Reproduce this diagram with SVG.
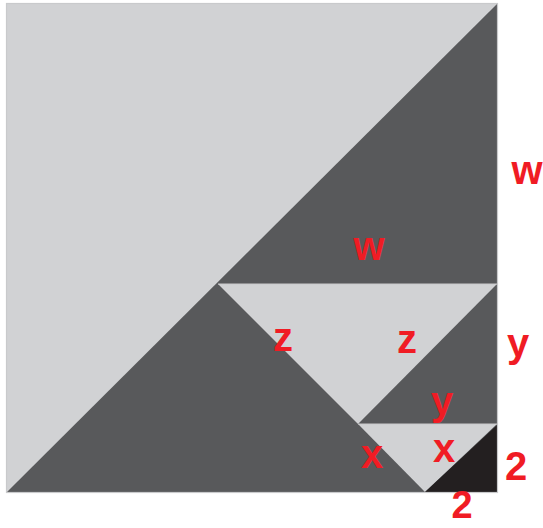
<svg xmlns="http://www.w3.org/2000/svg" width="543" height="528" viewBox="0 0 543 528">
<style>
.dark{fill:#58595b}
.light{fill:#d1d2d4}
.black{fill:#231f20}
.edge{stroke:#c9cacc;stroke-width:1.2;fill:none}
.lbl{font-family:"Liberation Sans",Arial,sans-serif;font-weight:bold;fill:#f01c24;text-anchor:middle}
.out{font-size:40px}
.in{font-size:40px}
</style>
<rect width="543" height="528" fill="#ffffff"/>
<g id="square">
<rect class="dark" x="7" y="4" width="490" height="488"/>
</g>
<g id="big-light-triangle">
<polygon class="light" points="7,4 497,4 7,492"/>
</g>
<g id="triangle-z">
<polygon class="light" points="218,284 497,284 358,424"/>
</g>
<g id="triangle-x">
<polygon class="light" points="358,424 497,424 425,492"/>
</g>
<g id="triangle-2">
<polygon class="black" points="425,492 497,425 497,492"/>
</g>
<g id="edges">
<line class="edge" x1="218" y1="284" x2="497" y2="284"/>
<line class="edge" x1="358" y1="424" x2="497" y2="424"/>
<rect class="edge" x="6.5" y="3.5" width="491" height="489"/>
</g>
<g id="labels">
<text class="lbl out" x="527" y="184">w</text>
<text class="lbl in" x="369" y="260">w</text>
<text class="lbl out" x="518" y="357">y</text>
<text class="lbl out" x="516" y="480">2</text>
<text class="lbl out" x="462" y="518" style="font-size:38px">2</text>
<text class="lbl in" x="283" y="351">z</text>
<text class="lbl in" x="407" y="353">z</text>
<text class="lbl in" x="442" y="415">y</text>
<text class="lbl in" x="372" y="468">x</text>
<text class="lbl in" x="444" y="462">x</text>
</g>
</svg>
